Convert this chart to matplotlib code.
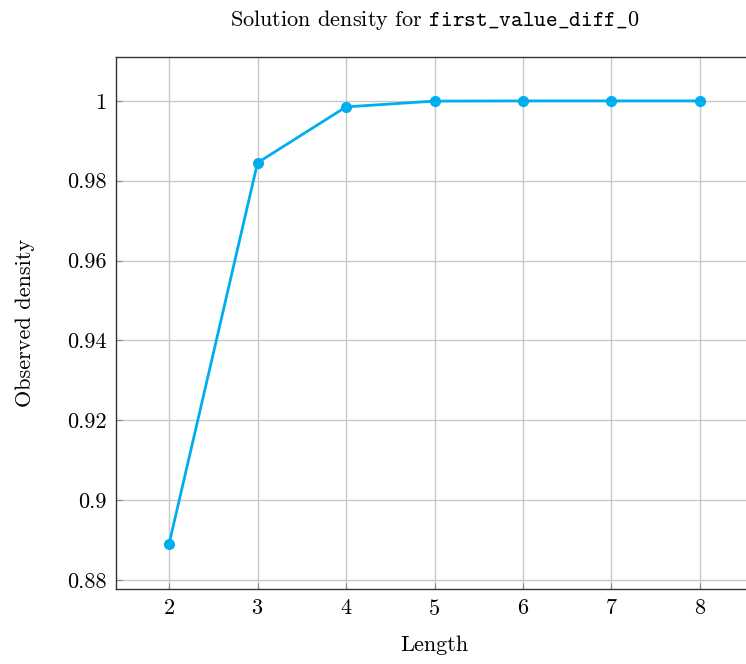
import matplotlib
matplotlib.use("Agg")
import matplotlib.pyplot as plt
from matplotlib.ticker import FuncFormatter

# data
lengths = [2, 3, 4, 5, 6, 7, 8]
density = [0.889, 0.9845, 0.9985, 0.99995, 1.0, 1.0, 1.0]
y_ticks = [0.88, 0.9, 0.92, 0.94, 0.96, 0.98, 1.0]

plt.rcParams['font.family'] = ['cmr10', 'DejaVu Serif']
plt.rcParams['mathtext.fontset'] = 'cm'
plt.rcParams['axes.formatter.use_mathtext'] = True

fig = plt.figure(figsize=(7.46, 6.64), dpi=100)
ax = fig.add_axes([116 / 746, 1 - 589 / 664, (753 - 116) / 746, (589 - 57) / 664])

ax.plot(lengths, density, color='#00AEEF', linewidth=2, marker='o', markersize=7, zorder=3)

ax.set_xlim(1.4, 8.6)
ax.set_ylim(0.8777, 1.011)
ax.set_xticks(lengths)
ax.set_yticks(y_ticks)
ax.yaxis.set_major_formatter(FuncFormatter(lambda v, p: ('%.2f' % v).rstrip('0').rstrip('.')))

ax.grid(True, color='#c8c8c8', linewidth=1)
ax.set_axisbelow(True)
ax.tick_params(direction='in', length=4, color='#888888', labelsize=16, pad=7)
for s in ax.spines.values():
    s.set_linewidth(1)
    s.set_color('#333333')

ax.set_xlabel('Length', fontsize=16, labelpad=12)
ax.set_ylabel('Observed density', fontsize=16, labelpad=23)
ax.set_title(r'Solution density for $\mathtt{first\_value\_diff\_0}$', fontsize=16, pad=22)

fig.savefig('out.png', dpi=100)
